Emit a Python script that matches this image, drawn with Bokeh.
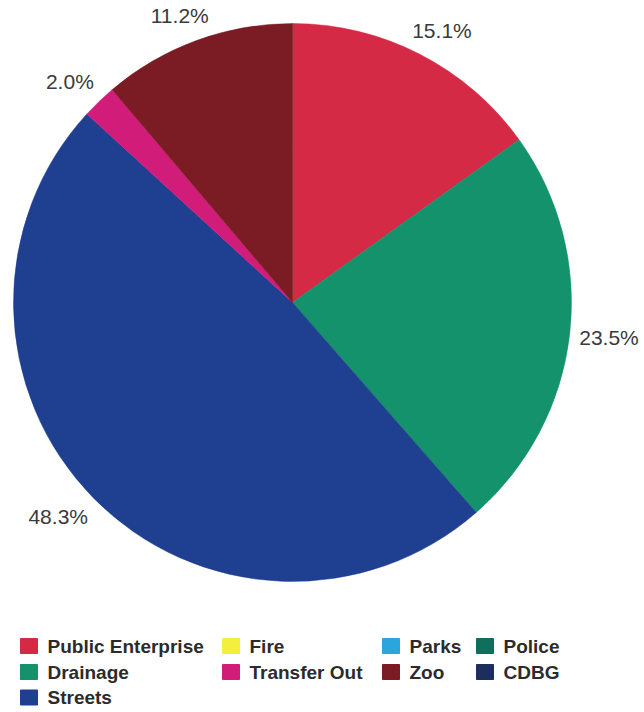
import math
from bokeh.plotting import figure
from bokeh.models import Range1d, ColumnDataSource
from bokeh.core.properties import value
from bokeh.embed import file_html
from bokeh.resources import INLINE

# ---- data ----
slice_names = ["Public Enterprise", "Drainage", "Streets", "Transfer Out", "Zoo"]
slice_values = [15.1, 23.5, 48.3, 2.0, 11.2]
slice_colors = ["#d42a45", "#14926b", "#1f3f91", "#d21c7a", "#7b1c25"]

legend_names = ["Public Enterprise", "Fire", "Parks", "Police",
                "Drainage", "Transfer Out", "Zoo", "CDBG",
                "Streets"]
legend_colors = ["#d42a45", "#f3ef3c", "#2ba6dc", "#0f6f5b",
                 "#14926b", "#d21c7a", "#7b1c25", "#1d2d5e",
                 "#1f3f91"]

W, H = 644, 712
p = figure(width=W, height=H, output_backend="svg", toolbar_location=None,
           x_range=Range1d(0, W), y_range=Range1d(-H, 0),
           min_border=0)
p.axis.visible = False
p.grid.visible = False
p.outline_line_color = None
p.background_fill_color = "white"

cx, cy, r = 292, -302, 279
total = sum(slice_values)
starts, ends, mids = [], [], []
acc = 0.0
for v in slice_values:
    a0 = acc / total * 2 * math.pi
    acc += v
    a1 = acc / total * 2 * math.pi
    starts.append(math.pi / 2 - a0)
    ends.append(math.pi / 2 - a1)
    mids.append((a0 + a1) / 2)

src = ColumnDataSource(dict(start=starts, end=ends, color=slice_colors))
p.wedge(x=cx, y=cy, radius=r, start_angle="start", end_angle="end",
        direction="clock", fill_color="color", line_color="color",
        line_width=0.5, source=src)

# labels
lx, ly, lt = [], [], []
d = 17
for v, th in zip(slice_values, mids):
    t = f"{v:.1f}%"
    w = 12.6 * len(t)
    h = 20
    s, c = math.sin(th), math.cos(th)
    x = cx + (r + d) * s + w / 2 * s
    x = min(x, W - w / 2 - 4)
    x = max(x, w / 2 + 4)
    lx.append(x)
    ly.append(cy + (r + d) * c + h / 2 * c)
    lt.append(t)
p.text(x=lx, y=ly, text=lt, text_align="center", text_baseline="middle",
       text_font=value("Liberation Sans"), text_font_size="21px",
       text_color="#3a3a3a")

# legend
col_x = [20, 222, 382, 476]
row_y = [645.5, 671.5, 697]
sx, sy, tx, ty = [], [], [], []
for i, name in enumerate(legend_names):
    ci, ri = i % 4, i // 4
    sx.append(col_x[ci] + 8.5)
    sy.append(-row_y[ri])
    tx.append(col_x[ci] + 27)
    ty.append(-row_y[ri])
p.rect(x=sx, y=sy, width=17, height=15, fill_color=legend_colors,
       line_color=legend_colors)
p.text(x=tx, y=ty, text=legend_names, text_align="left", text_baseline="middle",
       text_font=value("Liberation Sans"), text_font_size="19px",
       text_font_style="bold", text_color="#2b2b2b")

open("out.html", "w").write(file_html(p, INLINE))
